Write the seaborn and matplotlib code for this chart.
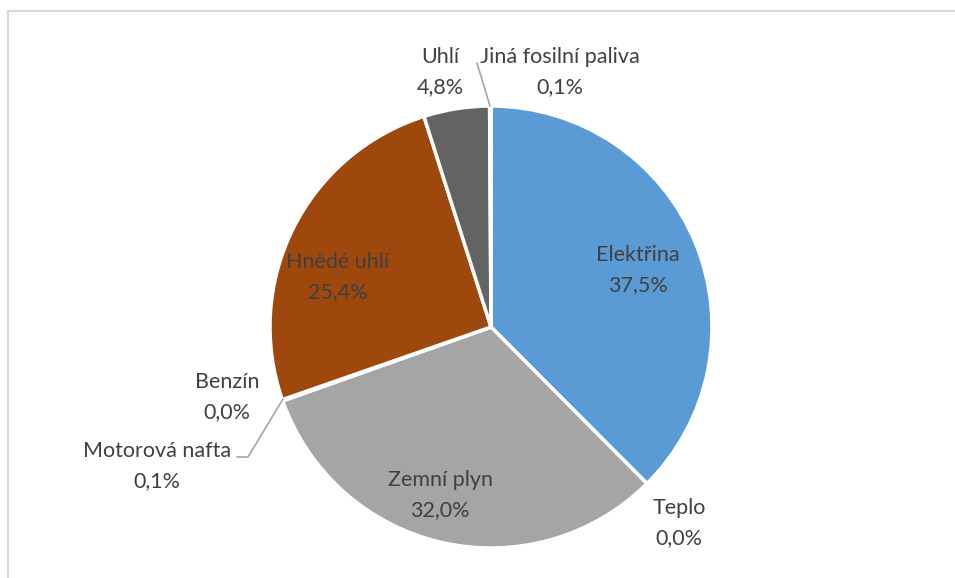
import matplotlib
matplotlib.use("Agg")
import matplotlib.pyplot as plt
import seaborn as sns
from matplotlib.lines import Line2D

# data (share of final energy consumption, %)
categories = ["Elektřina", "Teplo", "Zemní plyn", "Motorová nafta", "Benzín",
              "Hnědé uhlí", "Uhlí", "Jiná fosilní paliva"]
values = [37.5, 0.0, 32.0, 0.1, 0.0, 25.4, 4.8, 0.1]
value_labels = ["37,5%", "0,0%", "32,0%", "0,1%", "0,0%", "25,4%", "4,8%", "0,1%"]
colors = ["#5B9BD5", "#ED7D31", "#A5A5A5", "#FFC000", "#4472C4",
          "#9E480E", "#636363", "#997300"]

sns.set_theme(style="white")
plt.rcParams["font.family"] = ["Lato", "DejaVu Sans"]

W, H = 955, 578
CX, CY, R = 491, 327, 221

fig = plt.figure(figsize=(W / 100, H / 100), dpi=100)
ax = fig.add_axes([0, 0, 1, 1])

ax.pie(values, colors=colors, startangle=90, counterclock=False,
       wedgeprops=dict(edgecolor="white", linewidth=2.5))
ax.set_xlim(-CX / R, (W - CX) / R)
ax.set_ylim(-(H - CY) / R, CY / R)
ax.set_aspect("auto")
ax.axis("off")


def px(x, y):
    return (x - CX) / R, (CY - y) / R


# label centres in pixels of the reference
label_pos = {
    "Elektřina": (638, 270),
    "Teplo": (679, 523),
    "Zemní plyn": (440, 495),
    "Motorová nafta": (157, 466),
    "Benzín": (227, 397),
    "Hnědé uhlí": (338, 277),
    "Uhlí": (440, 72),
    "Jiná fosilní paliva": (560, 72),
}

txt = "#404040"
for cat, lab in zip(categories, value_labels):
    x, y = px(*label_pos[cat])
    ax.text(x, y, f"{cat}\n{lab}", ha="center", va="center", fontsize=15.5,
            color=txt, linespacing=1.6)

# leader lines
lc = "#A6A6A6"
xs, ys = zip(*[px(237, 457), px(248, 457), px(283, 399)])
ax.plot(xs, ys, color=lc, lw=1.2)
xs, ys = zip(*[px(477, 63), px(490, 106)])
ax.plot(xs, ys, color=lc, lw=1.2)

# chart area border (partly cut off in the reference)
bx, by = 7.5 / W, 1 - 10.5 / H
fig.add_artist(Line2D([bx, bx, 1.01], [-0.01, by, by], transform=fig.transFigure,
                      color="#D9D9D9", lw=1.5))

fig.savefig("out.png", dpi=100)
